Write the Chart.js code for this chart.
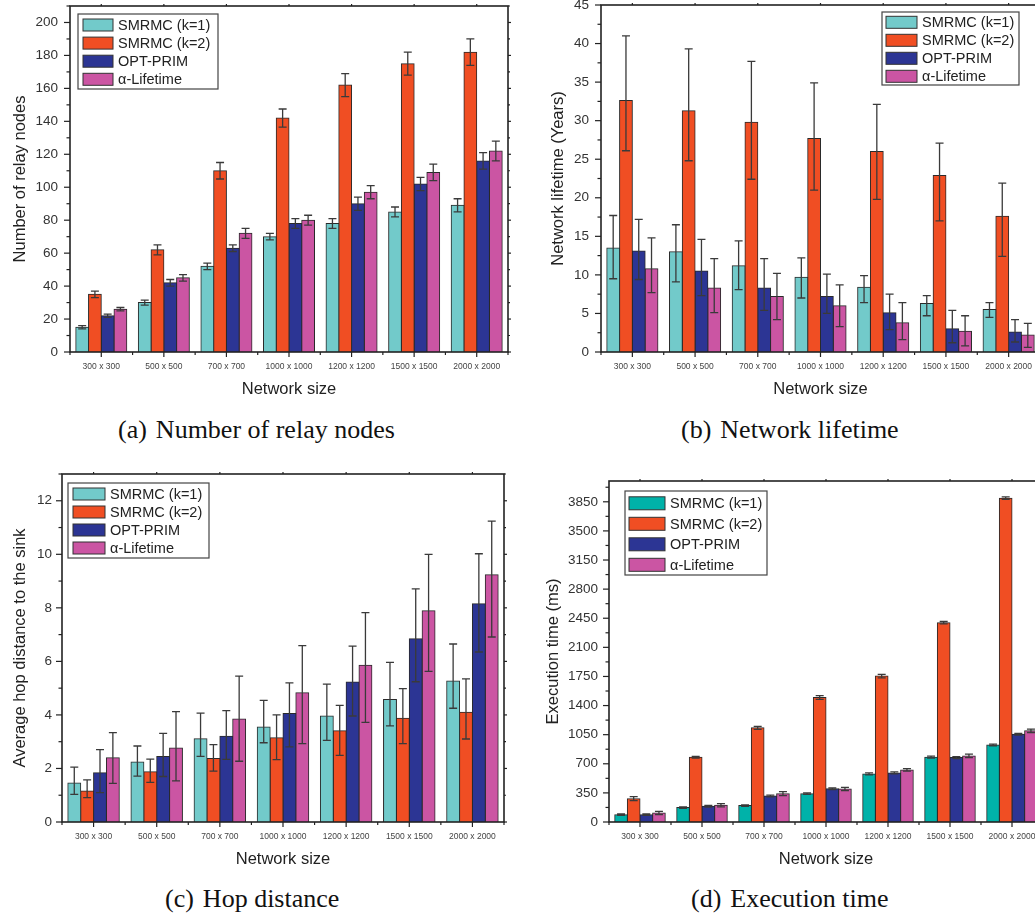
<!DOCTYPE html>
<html>
<head>
<meta charset="utf-8">
<script src="https://cdn.jsdelivr.net/npm/chart.js@4.4.1/dist/chart.umd.min.js"></script>
<style>
  html, body { margin: 0; padding: 0; background: #fff; }
  body { width: 1035px; height: 917px; overflow: hidden; position: relative; }
  canvas { position: absolute; }
  .cap { position: absolute; font-family: "Liberation Serif", "Times New Roman", serif; font-size: 26px;
         line-height: 30px; color: #111; white-space: nowrap; }
  .cap span { margin-left: 9px; }
</style>
</head>
<body>
<canvas id="chartRelay" width="517" height="405" style="left:0;top:0"></canvas>
<canvas id="chartLife" width="530" height="405" style="left:517px;top:0"></canvas>
<canvas id="chartHop" width="517" height="415" style="left:0;top:460px"></canvas>
<canvas id="chartExec" width="530" height="415" style="left:517px;top:460px"></canvas>

<div class="cap" style="left:118px;top:415px">(a)<span>Number of relay nodes</span></div>
<div class="cap" style="left:681px;top:415px">(b)<span>Network lifetime</span></div>
<div class="cap" style="left:165px;top:884px">(c)<span>Hop distance</span></div>
<div class="cap" style="left:691px;top:884px">(d)<span>Execution time</span></div>

<script>
// ---- categories and series names ----
const sizeLabels = ['300 x 300', '500 x 500', '700 x 700', '1000 x 1000', '1200 x 1200', '1500 x 1500', '2000 x 2000'];
const seriesNames = ['SMRMC (k=1)', 'SMRMC (k=2)', 'OPT-PRIM', '\u03B1-Lifetime'];

// ---- (a) number of relay nodes (mean, +/- error) ----
const relayK1 = [15, 30, 52, 70, 78, 85, 89];
const relayK1Err = [1, 1.5, 2, 2, 3, 3, 4];
const relayK2 = [35, 62, 110, 142, 162, 175, 182];
const relayK2Err = [2, 3, 5, 5.5, 7, 7, 8];
const relayOpt = [22, 42, 63, 78, 90, 102, 116];
const relayOptErr = [1, 2, 2, 3, 4, 4, 5];
const relayAlpha = [26, 45, 72, 80, 97, 109, 122];
const relayAlphaErr = [1, 2, 3, 3, 4, 5, 6];

// ---- (b) network lifetime in years (mean, lower bound, upper bound) ----
const lifeK1 = [13.5, 13.0, 11.2, 9.7, 8.4, 6.3, 5.5];
const lifeK1Lo = [9.5, 9.1, 8.1, 7.0, 6.4, 4.7, 4.5];
const lifeK1Hi = [17.7, 16.5, 14.4, 12.2, 9.9, 7.3, 6.4];
const lifeK2 = [32.6, 31.3, 29.8, 27.7, 26.0, 22.9, 17.6];
const lifeK2Lo = [26.1, 24.8, 22.4, 21.0, 19.8, 17.0, 12.4];
const lifeK2Hi = [41.0, 39.3, 37.7, 34.9, 32.1, 27.1, 21.9];
const lifeOpt = [13.1, 10.5, 8.3, 7.2, 5.1, 3.0, 2.6];
const lifeOptLo = [9.4, 7.3, 5.4, 5.0, 2.9, 1.2, 1.3];
const lifeOptHi = [17.2, 14.6, 12.1, 10.1, 7.5, 5.4, 4.2];
const lifeAlpha = [10.8, 8.3, 7.2, 6.0, 3.8, 2.7, 2.2];
const lifeAlphaLo = [7.7, 5.1, 4.2, 3.3, 1.6, 0.8, 0.6];
const lifeAlphaHi = [14.8, 12.1, 10.2, 8.7, 6.4, 4.7, 3.7];

// ---- (c) average hop distance to the sink (mean, lower bound, upper bound) ----
const hopK1 = [1.46, 2.24, 3.11, 3.55, 3.96, 4.58, 5.27];
const hopK1Lo = [1.03, 1.71, 2.45, 2.96, 3.05, 3.59, 4.25];
const hopK1Hi = [2.05, 2.84, 4.07, 4.54, 5.15, 5.96, 6.65];
const hopK2 = [1.16, 1.88, 2.37, 3.15, 3.41, 3.88, 4.10];
const hopK2Lo = [0.91, 1.48, 1.90, 2.33, 2.49, 2.93, 3.10];
const hopK2Hi = [1.57, 2.35, 2.89, 4.00, 4.36, 4.98, 5.35];
const hopOpt = [1.84, 2.45, 3.20, 4.05, 5.23, 6.85, 8.15];
const hopOptLo = [1.10, 1.70, 2.34, 2.81, 3.96, 5.24, 6.35];
const hopOptHi = [2.70, 3.31, 4.16, 5.20, 6.57, 8.71, 10.02];
const hopAlpha = [2.40, 2.76, 3.85, 4.83, 5.86, 7.89, 9.24];
const hopAlphaLo = [1.44, 1.54, 2.27, 2.93, 3.72, 5.63, 6.91];
const hopAlphaHi = [3.34, 4.12, 5.45, 6.59, 7.82, 10.00, 11.24];

// ---- (d) execution time in ms (mean, +/- error) ----
const execK1 = [88, 173, 197, 341, 578, 779, 927];
const execK1Err = [8, 10, 10, 10, 12, 12, 10];
const execK2 = [281, 779, 1132, 1497, 1754, 2396, 3894];
const execK2Err = [25, 10, 18, 22, 20, 15, 15];
const execOpt = [88, 189, 313, 401, 590, 775, 1056];
const execOptErr = [8, 10, 10, 10, 12, 12, 10];
const execAlpha = [108, 201, 341, 397, 626, 795, 1096];
const execAlphaErr = [20, 20, 25, 20, 15, 20, 20];

// ---- drawing helpers ----
const SANS = '"Liberation Sans", Arial, Helvetica, sans-serif';
const COLORS = ['#72CACA', '#F04E23', '#2C3594', '#CB55A3'];
const COLORS_EXEC = ['#00B2A9', '#F04E23', '#2C3594', '#CB55A3'];

const minus = (v, e) => v.map((x, i) => x - e[i]);
const plus = (v, e) => v.map((x, i) => x + e[i]);

// vertical error bars with caps, placed on each bar through the y scale
const errorBars = {
  id: 'errorBars',
  afterDatasetsDraw(chart) {
    const { ctx, scales: { y } } = chart;
    ctx.save();
    ctx.strokeStyle = '#3a3a3a';
    ctx.lineWidth = 1.3;
    chart.data.datasets.forEach((ds, i) => {
      chart.getDatasetMeta(i).data.forEach((bar, j) => {
        const x = bar.x;
        const top = y.getPixelForValue(ds.errHi[j]);
        const bot = y.getPixelForValue(ds.errLo[j]);
        ctx.beginPath();
        ctx.moveTo(x, top); ctx.lineTo(x, bot);
        ctx.moveTo(x - 4, top); ctx.lineTo(x + 4, top);
        ctx.moveTo(x - 4, bot); ctx.lineTo(x + 4, bot);
        ctx.stroke();
      });
    });
    ctx.restore();
  }
};

// box around the plot area with major/minor tick marks
const frame = {
  id: 'frame',
  afterDatasetsDraw(chart, args, o) {
    const { ctx, chartArea: a, scales: { x, y } } = chart;
    const seg = (x1, y1, x2, y2) => { ctx.beginPath(); ctx.moveTo(x1, y1); ctx.lineTo(x2, y2); ctx.stroke(); };
    ctx.save();
    ctx.strokeStyle = '#222';
    ctx.lineWidth = 1.6;
    ctx.strokeRect(a.left, a.top, a.right - a.left, a.bottom - a.top);
    ctx.lineWidth = 1.2;
    const half = o.step / 2;
    for (let k = 0; k * half <= y.max + 1e-9; k++) {
      const py = y.getPixelForValue(k * half);
      const major = k % 2 === 0;
      seg(a.left - (major ? 6 : 3.5), py, a.left, py);
      seg(a.right, py, a.right + (major ? 3 : 2), py);
    }
    const n = x.getLabels().length;
    for (let i = 0; i < n; i++) {
      const px = x.getPixelForValue(i);
      seg(px, a.bottom, px, a.bottom + 5);
      seg(px, a.top - 2, px, a.top);
    }
    for (let i = 0; i <= n; i++) {
      const px = x.getPixelForValue(i - 0.5);
      seg(px, a.bottom, px, a.bottom + 3);
    }
    ctx.restore();
  }
};

// boxed legend placed inside the plot
const boxLegend = {
  id: 'boxLegend',
  afterDraw(chart, args, o) {
    const { ctx } = chart;
    ctx.save();
    ctx.fillStyle = '#fff';
    ctx.fillRect(o.left, o.top, o.right - o.left, o.bottom - o.top);
    ctx.strokeStyle = '#444';
    ctx.lineWidth = 1.2;
    ctx.strokeRect(o.left, o.top, o.right - o.left, o.bottom - o.top);
    ctx.font = o.fontSize + 'px ' + SANS;
    ctx.textBaseline = 'middle';
    ctx.textAlign = 'left';
    chart.data.datasets.forEach((ds, i) => {
      const cy = o.firstRow + i * o.rowStep;
      ctx.fillStyle = ds.backgroundColor;
      ctx.fillRect(o.swLeft, cy - o.swH / 2, o.swRight - o.swLeft, o.swH);
      ctx.strokeStyle = '#333';
      ctx.lineWidth = 1;
      ctx.strokeRect(o.swLeft, cy - o.swH / 2, o.swRight - o.swLeft, o.swH);
      ctx.fillStyle = '#222';
      ctx.fillText(ds.label, o.textLeft, cy + 1);
    });
    ctx.restore();
  }
};

function makeChart(id, c) {
  return new Chart(document.getElementById(id), {
    type: 'bar',
    data: {
      labels: sizeLabels,
      datasets: c.series.map((s, i) => ({
        label: seriesNames[i],
        data: s.values,
        errLo: s.lo,
        errHi: s.hi,
        backgroundColor: c.colors[i],
        borderColor: '#2a2a2a',
        borderWidth: 1,
        inflateAmount: 0.5,
        categoryPercentage: 0.815,
        barPercentage: 1.0
      }))
    },
    options: {
      responsive: false,
      animation: false,
      devicePixelRatio: 1,
      layout: { padding: { left: 0, top: c.padTop, right: c.padRight, bottom: 0 } },
      plugins: {
        legend: { display: false },
        tooltip: { enabled: false },
        boxLegend: c.legend,
        frame: { step: c.step }
      },
      scales: {
        x: {
          grid: { display: false, drawTicks: false },
          border: { display: false },
          ticks: { font: { family: SANS, size: 8.5 }, color: '#444', padding: 9.6, maxRotation: 0, autoSkip: false },
          title: { display: true, text: 'Network size', font: { family: SANS, size: 16.5 }, color: '#222',
                   padding: { top: 0, bottom: 6 } },
          afterFit(s) { s.height = c.xHeight; s.paddingLeft = 0; s.paddingRight = 0; }
        },
        y: {
          min: 0,
          max: c.yMax,
          grid: { display: false, drawTicks: false },
          border: { display: false },
          ticks: { autoSkip: false, font: { family: SANS, size: 13.5 }, color: '#333', padding: c.tickPad,
                   callback: v => String(v) },
          afterBuildTicks(s) {
            const t = [];
            for (let k = 0; k * c.step <= c.yMax + 1e-9; k++) t.push({ value: k * c.step });
            s.ticks = t;
          },
          title: { display: true, text: c.yTitle, font: { family: SANS, size: 16.5 }, color: '#222',
                   padding: { top: c.titlePad, bottom: 0 } },
          afterFit(s) { s.width = c.yWidth; s.paddingTop = 0; s.paddingBottom = 0; }
        }
      }
    },
    plugins: [errorBars, frame, boxLegend]
  });
}

makeChart('chartRelay', {
  yMax: 210, step: 20, yTitle: 'Number of relay nodes',
  yWidth: 70, padTop: 6, padRight: 9, xHeight: 53, tickPad: 12, titlePad: 11,
  colors: COLORS,
  series: [
    { values: relayK1, lo: minus(relayK1, relayK1Err), hi: plus(relayK1, relayK1Err) },
    { values: relayK2, lo: minus(relayK2, relayK2Err), hi: plus(relayK2, relayK2Err) },
    { values: relayOpt, lo: minus(relayOpt, relayOptErr), hi: plus(relayOpt, relayOptErr) },
    { values: relayAlpha, lo: minus(relayAlpha, relayAlphaErr), hi: plus(relayAlpha, relayAlphaErr) }
  ],
  legend: { left: 78, top: 14, right: 218, bottom: 89, swLeft: 83, swRight: 113, swH: 12,
            textLeft: 118, firstRow: 25, rowStep: 18.1, fontSize: 14.5 }
});

makeChart('chartLife', {
  yMax: 45, step: 5, yTitle: 'Network lifetime (Years)',
  yWidth: 84, padTop: 5, padRight: 7, xHeight: 53, tickPad: 12, titlePad: 32,
  colors: COLORS,
  series: [
    { values: lifeK1, lo: lifeK1Lo, hi: lifeK1Hi },
    { values: lifeK2, lo: lifeK2Lo, hi: lifeK2Hi },
    { values: lifeOpt, lo: lifeOptLo, hi: lifeOptHi },
    { values: lifeAlpha, lo: lifeAlphaLo, hi: lifeAlphaHi }
  ],
  legend: { left: 365, top: 12, right: 502, bottom: 85, swLeft: 369, swRight: 400, swH: 12,
            textLeft: 405, firstRow: 22.3, rowStep: 18, fontSize: 14.5 }
});

makeChart('chartHop', {
  yMax: 13, step: 2, yTitle: 'Average hop distance to the sink',
  yWidth: 62, padTop: 14, padRight: 13, xHeight: 53, tickPad: 10, titlePad: 11,
  colors: COLORS,
  series: [
    { values: hopK1, lo: hopK1Lo, hi: hopK1Hi },
    { values: hopK2, lo: hopK2Lo, hi: hopK2Hi },
    { values: hopOpt, lo: hopOptLo, hi: hopOptHi },
    { values: hopAlpha, lo: hopAlphaLo, hi: hopAlphaHi }
  ],
  legend: { left: 68, top: 23, right: 209, bottom: 98, swLeft: 73, swRight: 105, swH: 12,
            textLeft: 110, firstRow: 34, rowStep: 18, fontSize: 14.5 }
});

makeChart('chartExec', {
  yMax: 4100, step: 350, yTitle: 'Execution time (ms)',
  yWidth: 92, padTop: 21, padRight: 4, xHeight: 53, tickPad: 11, titlePad: 27,
  colors: COLORS_EXEC,
  series: [
    { values: execK1, lo: minus(execK1, execK1Err), hi: plus(execK1, execK1Err) },
    { values: execK2, lo: minus(execK2, execK2Err), hi: plus(execK2, execK2Err) },
    { values: execOpt, lo: minus(execOpt, execOptErr), hi: plus(execOpt, execOptErr) },
    { values: execAlpha, lo: minus(execAlpha, execAlphaErr), hi: plus(execAlpha, execAlphaErr) }
  ],
  legend: { left: 108, top: 31, right: 250, bottom: 115, swLeft: 112, swRight: 148, swH: 13,
            textLeft: 153, firstRow: 43.3, rowStep: 20.5, fontSize: 14.5 }
});
</script>
</body>
</html>
